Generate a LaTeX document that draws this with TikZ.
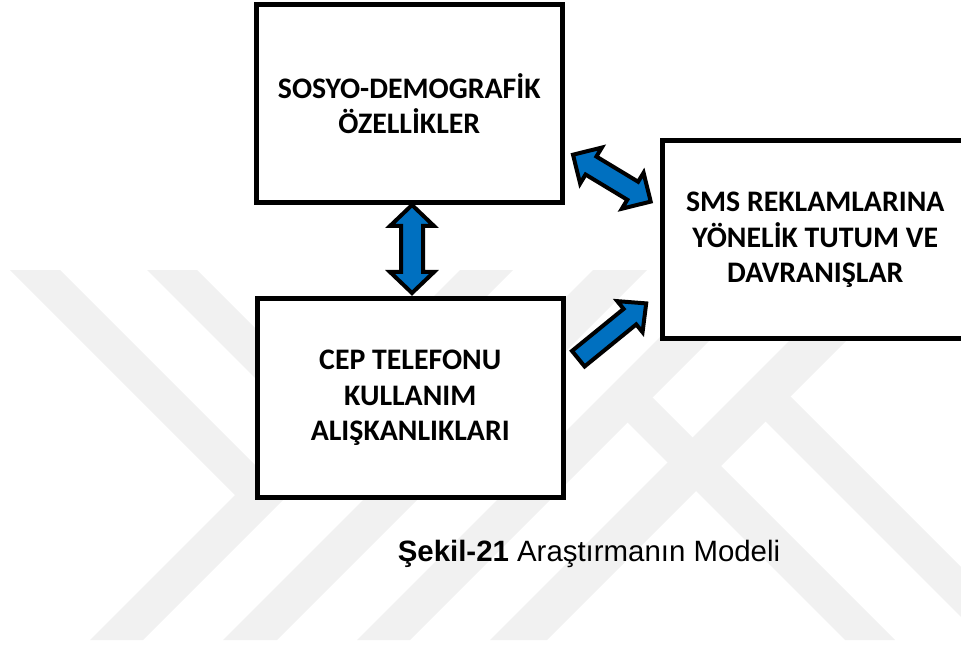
\documentclass[tikz,border=0pt]{standalone}
\usepackage{fontspec}
\setmainfont{Carlito}
\newfontfamily\capfont{Liberation Sans}
\usetikzlibrary{calc}
\definecolor{arrblue}{RGB}{0,112,192}
\definecolor{wmgray}{RGB}{241,241,241}
\newcommand\boxfnt{\bfseries\fontsize{29.8bp}{35.5bp}\selectfont}
% double block arrow: #1,#2 tips, #3 head length, #4 head half width, #5 shaft half width
\newcommand\dblarr[5]{%
  \draw[blockarrow] (#1)
    -- ($(#1)!#3!(#2)!#4!90:(#2)$) -- ($(#1)!#3!(#2)!#5!90:(#2)$)
    -- ($(#2)!#3!(#1)!#5!-90:(#1)$) -- ($(#2)!#3!(#1)!#4!-90:(#1)$)
    -- (#2)
    -- ($(#2)!#3!(#1)!#4!90:(#1)$) -- ($(#2)!#3!(#1)!#5!90:(#1)$)
    -- ($(#1)!#3!(#2)!#5!-90:(#2)$) -- ($(#1)!#3!(#2)!#4!-90:(#2)$)
    -- cycle;}
% single block arrow: #1 tail, #2 tip
\newcommand\sglarr[5]{%
  \draw[blockarrow] (#2)
    -- ($(#2)!#3!(#1)!#4!90:(#1)$) -- ($(#2)!#3!(#1)!#5!90:(#1)$)
    -- ($(#1)!#5!-90:(#2)$) -- ($(#1)!#5!90:(#2)$)
    -- ($(#2)!#3!(#1)!#5!-90:(#1)$) -- ($(#2)!#3!(#1)!#4!-90:(#1)$)
    -- cycle;}
\begin{document}
\begin{tikzpicture}[x=1bp,y=-1bp,
  box/.style={draw=black, line width=5bp, fill=white, align=center,
    inner sep=0pt, font=\boxfnt, minimum width=306bp, minimum height=198bp},
  blockarrow/.style={draw=black, fill=arrblue, line width=4bp, line join=miter},
  band/.style={fill=wmgray, draw=none}]
\useasboundingbox (0,0) rectangle (961,646);
\clip (0,0) rectangle (961,646);
% watermark
\fill[band] (460,270) -- (513,270) -- (143,640) -- (90,640) -- cycle;
\fill[band] (593,270) -- (647,270) -- (277,640) -- (223,640) -- cycle;
\fill[band] (727,270) -- (780,270) -- (410,640) -- (357,640) -- cycle;
\fill[band] (860,270) -- (917,270) -- (547,640) -- (490,640) -- cycle;
\fill[band] (10,270) -- (60,270) -- (286.5,496.5) -- (235,495) -- cycle;
\fill[band] (147,270) -- (197,270) -- (422,495) -- (370,493) -- cycle;
\fill[band] (601,396) -- (652.5,397.5) -- (895,640) -- (845,640) -- cycle;
\fill[band] (737,393) -- (790.5,396.5) -- (1034,640) -- (984,640) -- cycle;
% boxes
\node[box] (demo) at (409.25,103.75) {SOSYO-DEMOGRAFİK\\ÖZELLİKLER};
\node[box] (cep) at (410.25,398) {CEP TELEFONU\\KULLANIM\\ALIŞKANLIKLARI};
\node[box] (sms) at (815.25,239.75) {SMS REKLAMLARINA\\YÖNELİK TUTUM VE\\DAVRANIŞLAR};
% arrows
\coordinate (v1) at (412,205);
\coordinate (v2) at (412,293);
\coordinate (d1) at (573,154.7);
\coordinate (d2) at (650.7,201.6);
\coordinate (s1) at (578.3,358.7);
\coordinate (s2) at (646.2,303.4);
\dblarr{v1}{v2}{21bp}{22bp}{11bp}
\dblarr{d1}{d2}{21bp}{21bp}{10.5bp}
\sglarr{s1}{s2}{21bp}{20bp}{10bp}
% caption
\node[font=\capfont\fontsize{29.4bp}{34bp}\selectfont, anchor=base, inner sep=0pt]
  (cap) at (589,561) {\textbf{Şekil-21} Araştırmanın Modeli};
\end{tikzpicture}
\end{document}
